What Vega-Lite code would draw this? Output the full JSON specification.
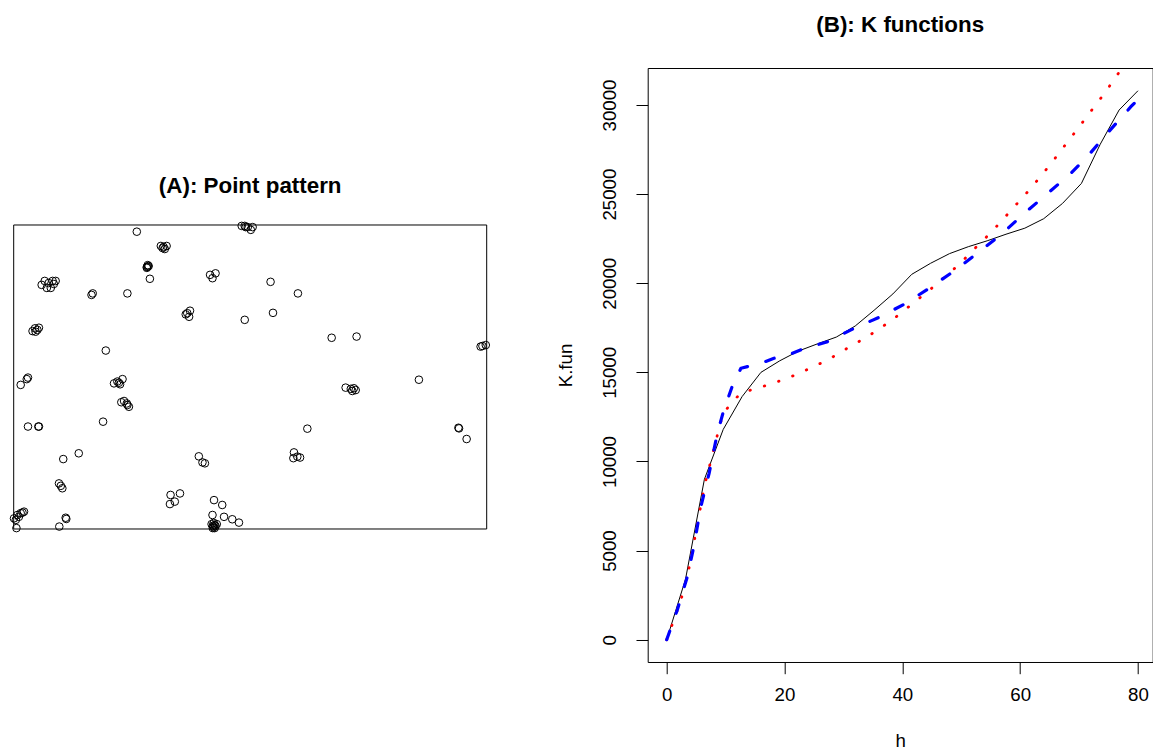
{
  "$schema": "https://vega.github.io/schema/vega-lite/v6.json",
  "background": "white",
  "padding": {"left": 7.7, "top": 13, "right": 0, "bottom": 0},
  "config": {
    "view": {"stroke": null},
    "font": "Liberation Sans",
    "title": {"font": "Liberation Sans", "fontSize": 22.4, "fontWeight": "bold", "color": "black", "anchor": "middle", "baseline": "alphabetic"}
  },
  "datasets": {
    "window": [{"x0": 0, "x1": 155.6, "y0": 0, "y1": 100}],
    "points": [
      {"x": 40.5, "y": 97.8},
      {"x": 48.4, "y": 93.1}, {"x": 49.3, "y": 92.8}, {"x": 50.3, "y": 93.1}, {"x": 49.7, "y": 92.1}, {"x": 49.0, "y": 92.4},
      {"x": 43.8, "y": 86.2}, {"x": 44.1, "y": 86.8}, {"x": 44.4, "y": 86.5}, {"x": 43.8, "y": 85.9}, {"x": 44.1, "y": 86.3},
      {"x": 44.8, "y": 82.3},
      {"x": 64.6, "y": 83.6}, {"x": 66.4, "y": 84.1}, {"x": 65.4, "y": 82.5},
      {"x": 9.2, "y": 80.3}, {"x": 10.2, "y": 81.6}, {"x": 11.5, "y": 80.9}, {"x": 12.2, "y": 79.3}, {"x": 12.8, "y": 81.6}, {"x": 13.8, "y": 81.6}, {"x": 10.9, "y": 79.3}, {"x": 13.2, "y": 80.6},
      {"x": 25.6, "y": 77.0}, {"x": 26.0, "y": 77.5},
      {"x": 37.4, "y": 77.5},
      {"x": 75.0, "y": 99.7}, {"x": 76.0, "y": 99.7}, {"x": 77.0, "y": 99.3}, {"x": 78.0, "y": 98.4}, {"x": 78.6, "y": 99.3}, {"x": 76.3, "y": 99.3},
      {"x": 57.1, "y": 71.0}, {"x": 58.0, "y": 71.8}, {"x": 57.7, "y": 69.8}, {"x": 56.6, "y": 70.6},
      {"x": 76.0, "y": 68.8},
      {"x": 6.2, "y": 65.1}, {"x": 7.0, "y": 66.0}, {"x": 7.8, "y": 65.5}, {"x": 7.2, "y": 64.9}, {"x": 8.3, "y": 66.2},
      {"x": 30.3, "y": 58.7},
      {"x": 2.3, "y": 47.4}, {"x": 4.3, "y": 49.3}, {"x": 4.7, "y": 49.8},
      {"x": 33.0, "y": 47.9}, {"x": 34.1, "y": 48.5}, {"x": 35.0, "y": 47.6}, {"x": 35.8, "y": 49.3}, {"x": 34.6, "y": 48.1},
      {"x": 35.4, "y": 41.7}, {"x": 36.3, "y": 42.1}, {"x": 37.2, "y": 41.3}, {"x": 37.9, "y": 40.2}, {"x": 37.4, "y": 40.8},
      {"x": 4.7, "y": 33.7}, {"x": 8.1, "y": 33.7}, {"x": 8.3, "y": 33.7},
      {"x": 29.4, "y": 35.3},
      {"x": 21.4, "y": 24.9}, {"x": 16.3, "y": 23.0},
      {"x": 60.9, "y": 23.9}, {"x": 62.1, "y": 21.9}, {"x": 62.9, "y": 21.6},
      {"x": 14.9, "y": 15.0}, {"x": 15.5, "y": 14.2}, {"x": 16.0, "y": 13.4},
      {"x": 51.6, "y": 11.2}, {"x": 54.7, "y": 11.7}, {"x": 53.0, "y": 9.0}, {"x": 51.4, "y": 8.2},
      {"x": 65.9, "y": 9.5}, {"x": 68.6, "y": 7.9},
      {"x": 0.1, "y": 3.5}, {"x": 1.2, "y": 4.6}, {"x": 2.3, "y": 5.2}, {"x": 3.4, "y": 5.7}, {"x": 0.7, "y": 3.0}, {"x": 1.7, "y": 4.0}, {"x": 2.9, "y": 5.4}, {"x": 0.9, "y": 0.3},
      {"x": 17.1, "y": 3.7}, {"x": 17.3, "y": 3.3}, {"x": 15.0, "y": 0.8},
      {"x": 65.4, "y": 4.6}, {"x": 69.2, "y": 4.0}, {"x": 71.9, "y": 3.2}, {"x": 74.1, "y": 2.1},
      {"x": 65.1, "y": 1.6}, {"x": 65.5, "y": 1.0}, {"x": 65.8, "y": 0.7}, {"x": 66.1, "y": 1.3}, {"x": 66.4, "y": 1.0}, {"x": 65.8, "y": 2.0}, {"x": 65.5, "y": 0.3}, {"x": 66.1, "y": 0.3}, {"x": 66.8, "y": 1.6},
      {"x": 84.5, "y": 81.3},
      {"x": 93.5, "y": 77.5},
      {"x": 85.3, "y": 71.1},
      {"x": 104.6, "y": 62.9}, {"x": 112.8, "y": 63.3},
      {"x": 154.2, "y": 60.2}, {"x": 155.3, "y": 60.5}, {"x": 153.6, "y": 60.0},
      {"x": 133.3, "y": 49.1},
      {"x": 109.2, "y": 46.5}, {"x": 110.9, "y": 46.1}, {"x": 111.9, "y": 46.3}, {"x": 111.4, "y": 45.4}, {"x": 112.5, "y": 45.7},
      {"x": 96.6, "y": 33.0},
      {"x": 146.3, "y": 33.3}, {"x": 146.5, "y": 33.1}, {"x": 149.0, "y": 29.6},
      {"x": 92.2, "y": 25.2}, {"x": 92.0, "y": 23.3}, {"x": 93.3, "y": 23.8}, {"x": 94.2, "y": 23.5}
    ],
    "observed": [
      {"h": 0, "K": 0}, {"h": 3.2, "K": 3400}, {"h": 6.4, "K": 9000}, {"h": 9.6, "K": 11800},
      {"h": 12.8, "K": 13640}, {"h": 16.0, "K": 15000}, {"h": 19.2, "K": 15650}, {"h": 22.4, "K": 16200},
      {"h": 25.6, "K": 16600}, {"h": 28.8, "K": 16980}, {"h": 32.0, "K": 17600}, {"h": 35.2, "K": 18480},
      {"h": 38.4, "K": 19400}, {"h": 41.6, "K": 20500}, {"h": 44.8, "K": 21120}, {"h": 48.0, "K": 21660},
      {"h": 51.2, "K": 22050}, {"h": 54.4, "K": 22380}, {"h": 57.6, "K": 22750}, {"h": 60.8, "K": 23090},
      {"h": 64.0, "K": 23620}, {"h": 67.2, "K": 24480}, {"h": 70.4, "K": 25600}, {"h": 73.6, "K": 27800},
      {"h": 76.8, "K": 29720}, {"h": 80.0, "K": 30800}
    ],
    "red": [
      {"h": 0, "K": 0}, {"h": 0.85, "K": 769}, {"h": 2.5, "K": 2323}, {"h": 3.7, "K": 3871}, {"h": 4.65, "K": 5482},
      {"h": 5.55, "K": 7092}, {"h": 6.45, "K": 8697}, {"h": 7.7, "K": 10290}, {"h": 8.9, "K": 11878}, {"h": 9.56, "K": 12663},
      {"h": 11.0, "K": 13298}, {"h": 12.7, "K": 13858}, {"h": 15.1, "K": 14083}, {"h": 17.5, "K": 14330}, {"h": 19.8, "K": 14588},
      {"h": 22.1, "K": 14891}, {"h": 24.3, "K": 15228}, {"h": 26.6, "K": 15581}, {"h": 28.7, "K": 15957}, {"h": 30.8, "K": 16383},
      {"h": 33.0, "K": 16798}, {"h": 35.1, "K": 17225}, {"h": 37.2, "K": 17696}, {"h": 39.2, "K": 18179}, {"h": 41.1, "K": 18684},
      {"h": 43.0, "K": 19189}, {"h": 44.9, "K": 19694}, {"h": 46.8, "K": 20238}, {"h": 48.7, "K": 20782}, {"h": 50.5, "K": 21343},
      {"h": 52.2, "K": 21921}, {"h": 54.0, "K": 22499}, {"h": 55.7, "K": 23082}, {"h": 57.4, "K": 23700}, {"h": 59.0, "K": 24294},
      {"h": 60.7, "K": 24912}, {"h": 62.3, "K": 25529}, {"h": 63.9, "K": 26168}, {"h": 65.4, "K": 26785}, {"h": 66.9, "K": 27436},
      {"h": 68.4, "K": 28076}, {"h": 69.9, "K": 28727}, {"h": 71.4, "K": 29383}, {"h": 72.9, "K": 30040}, {"h": 74.4, "K": 30690},
      {"h": 75.8, "K": 31363}, {"h": 77.2, "K": 32020}, {"h": 80.0, "K": 33350}
    ],
    "blue": [
      {"h": 0, "K": 0}, {"h": 1.8, "K": 1666}, {"h": 3.5, "K": 3535}, {"h": 4.6, "K": 5218}, {"h": 5.8, "K": 7462},
      {"h": 7.2, "K": 9336}, {"h": 8.6, "K": 11580}, {"h": 9.7, "K": 12888}, {"h": 11.1, "K": 14195}, {"h": 12.6, "K": 15228},
      {"h": 13.7, "K": 15321}, {"h": 16.0, "K": 15508}, {"h": 18.2, "K": 15789}, {"h": 20.5, "K": 15950}, {"h": 22.7, "K": 16254},
      {"h": 27.3, "K": 16722}, {"h": 31.8, "K": 17471}, {"h": 36.3, "K": 18123}, {"h": 40.6, "K": 18874}, {"h": 44.8, "K": 19772},
      {"h": 48.8, "K": 20687}, {"h": 52.7, "K": 21679}, {"h": 56.7, "K": 22707}, {"h": 60.7, "K": 23924}, {"h": 64.7, "K": 25046},
      {"h": 68.6, "K": 26168}, {"h": 71.4, "K": 27099}, {"h": 74.8, "K": 28413}, {"h": 78.8, "K": 29906}, {"h": 80.0, "K": 30300}
    ]
  },
  "bounds": "flush",
  "spacing": 161,
  "hconcat": [
    {
      "width": 473,
      "height": 594,
      "title": {"text": "(A): Point pattern", "offset": 32, "dy": 161.5},
      "layer": [
        {
          "data": {"name": "window"},
          "mark": {"type": "rect", "fill": "transparent", "stroke": "black", "strokeWidth": 1},
          "encoding": {
            "x": {"field": "x0", "type": "quantitative", "scale": {"domain": [0, 155.6], "nice": false, "zero": false}, "axis": null},
            "x2": {"field": "x1"},
            "y": {"field": "y0", "type": "quantitative", "scale": {"domain": [-43.75, 151.64], "nice": false, "zero": false}, "axis": null},
            "y2": {"field": "y1"}
          }
        },
        {
          "data": {"name": "points"},
          "mark": {"type": "point", "shape": "circle", "size": 58, "filled": false, "stroke": "black", "strokeWidth": 1, "opacity": 1},
          "encoding": {
            "x": {"field": "x", "type": "quantitative", "scale": {"domain": [0, 155.6], "nice": false, "zero": false}, "axis": null},
            "y": {"field": "y", "type": "quantitative", "scale": {"domain": [-43.75, 151.64], "nice": false, "zero": false}, "axis": null}
          }
        }
      ]
    },
    {
      "width": 505,
      "height": 594,
      "view": {"stroke": "black", "strokeWidth": 1},
      "title": {"text": "(B): K functions", "offset": 32},
      "encoding": {
        "x": {
          "field": "h", "type": "quantitative",
          "scale": {"domain": [-3.225, 82.5], "nice": false, "zero": false},
          "axis": {
            "values": [0, 20, 40, 60, 80], "format": "d", "domain": false, "grid": false,
            "tickColor": "black", "tickSize": 11.7, "tickWidth": 1,
            "labelFont": "Liberation Sans", "labelFontSize": 18.7, "labelColor": "black", "labelPadding": 11.6,
            "labelFlush": false, "labelOverlap": false,
            "title": "h", "titleFont": "Liberation Sans", "titleFontSize": 18.7, "titleFontWeight": "normal", "titleColor": "black", "titlePadding": 28
          }
        },
        "y": {
          "field": "K", "type": "quantitative",
          "scale": {"domain": [-1251, 32076], "nice": false, "zero": false},
          "axis": {
            "values": [0, 5000, 10000, 15000, 20000, 25000, 30000], "format": "d", "domain": false, "grid": false,
            "tickColor": "black", "tickSize": 11.7, "tickWidth": 1,
            "labelFont": "Liberation Sans", "labelFontSize": 18.7, "labelColor": "black", "labelPadding": 16,
            "labelAngle": 270, "labelAlign": "center", "labelBaseline": "bottom",
            "labelFlush": false, "labelOverlap": false,
            "title": "K.fun", "titleFont": "Liberation Sans", "titleFontSize": 18.7, "titleFontWeight": "normal", "titleColor": "black", "titlePadding": 25
          }
        }
      },
      "layer": [
        {"data": {"name": "observed"}, "mark": {"type": "line", "color": "black", "strokeWidth": 1, "clip": true}},
        {"data": {"name": "red"}, "mark": {"type": "line", "color": "#FF0000", "strokeWidth": 2.8, "strokeDash": [0.5, 14.5], "strokeCap": "round", "clip": true}},
        {"data": {"name": "blue"}, "mark": {"type": "line", "color": "#0000FF", "strokeWidth": 3.2, "strokeDash": [9, 19], "strokeCap": "round", "clip": true}}
      ]
    }
  ]
}
